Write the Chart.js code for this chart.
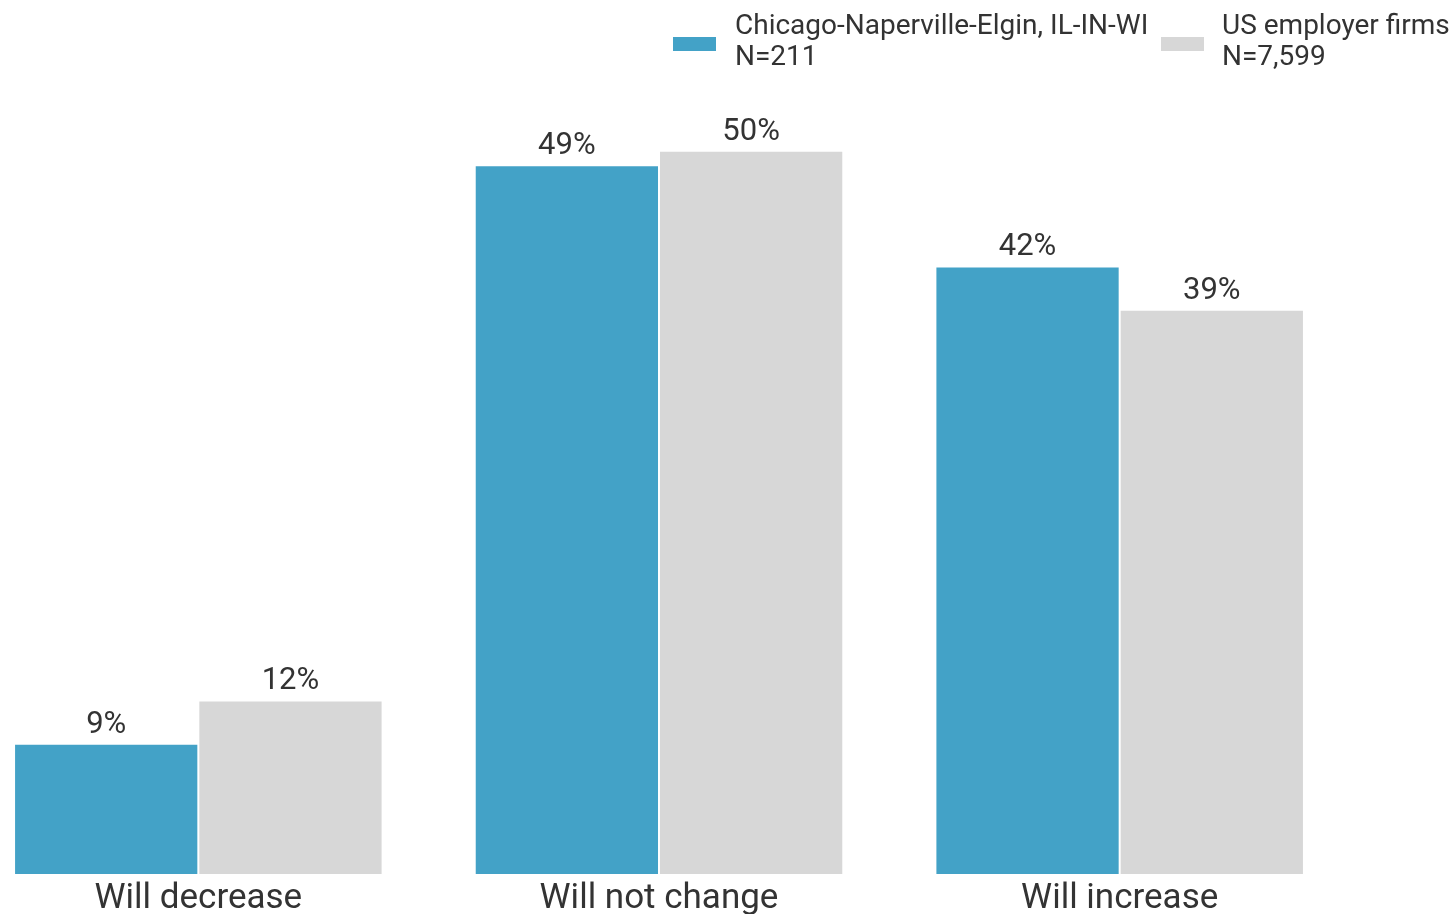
<!DOCTYPE html>
<html>
<head>
<meta charset="utf-8">
<script src="https://cdn.jsdelivr.net/npm/chart.js@4/dist/chart.umd.min.js"></script>
<style>
  body { margin: 0; background: #fff; overflow: hidden; font-family: Roboto, sans-serif; }
  #wrap { position: relative; width: 1455px; height: 914px; overflow: hidden; }
  #chart { position: absolute; left: -32px; top: 0; }
  .legend { position: absolute; top: 9px; color: #333; font-size: 28px; line-height: 31px; }
  .legend .sw { position: absolute; width: 43px; height: 14px; top: 28px; }
  .legend .tx { position: absolute; white-space: nowrap; }
</style>
</head>
<body>
<div id="wrap">
  <canvas id="chart" width="1382" height="924"></canvas>
  <div class="legend" id="legend"></div>
</div>
<script>
// categories and series
const categories = ["Will decrease", "Will not change", "Will increase"];
const seriesNames = [["Chicago-Naperville-Elgin, IL-IN-WI", "N=211"], ["US employer firms", "N=7,599"]];
const chicagoValues = [9, 49, 42];
const usValues = [12, 50, 39];
const colors = ["#43a2c7", "#d7d7d7"];

// legend (html so the two-line labels stay as text)
const legendPos = [{ sw: 673, tx: 735 }, { sw: 1161, tx: 1222 }];
const legend = document.getElementById("legend");
seriesNames.forEach((lines, i) => {
    const sw = document.createElement("div");
    sw.className = "sw";
    sw.style.left = legendPos[i].sw + "px";
    sw.style.background = colors[i];
    legend.appendChild(sw);
    const tx = document.createElement("div");
    tx.className = "tx";
    tx.style.left = legendPos[i].tx + "px";
    tx.innerHTML = lines.join("<br>");
    legend.appendChild(tx);
});

// value labels above the bars
const valueLabels = {
    id: "valueLabels",
    afterDatasetsDraw(chart) {
        const ctx = chart.ctx;
        ctx.save();
        ctx.font = "31px Roboto";
        ctx.fillStyle = "#333";
        ctx.textAlign = "center";
        ctx.textBaseline = "alphabetic";
        chart.data.datasets.forEach((ds, i) => {
            chart.getDatasetMeta(i).data.forEach((bar, j) => {
                ctx.fillText(ds.data[j] + "%", bar.x, bar.y - 11);
            });
        });
        ctx.restore();
    }
};

new Chart(document.getElementById("chart"), {
    type: "bar",
    data: {
        labels: categories,
        datasets: [
            {
                label: seriesNames[0].join(" "),
                data: chicagoValues,
                backgroundColor: colors[0],
                borderColor: "rgba(255,255,255,0.5)",
                borderWidth: 1,
            },
            {
                label: seriesNames[1].join(" "),
                data: usValues,
                backgroundColor: colors[1],
                borderColor: "rgba(255,255,255,0.5)",
                borderWidth: 1,
            },
        ],
    },
    options: {
        responsive: false,
        animation: false,
        events: [],
        layout: { padding: { top: 6, left: 0, right: 0, bottom: 0 } },
        datasets: { bar: { categoryPercentage: 0.8, barPercentage: 1 } },
        plugins: { legend: { display: false }, tooltip: { enabled: false } },
        scales: {
            x: {
                grid: { display: false, drawTicks: false },
                border: { display: false },
                ticks: { color: "#333", font: { family: "Roboto", size: 35 }, padding: 4 },
            },
            y: {
                display: false,
                min: 0,
                max: 60,
            },
        },
    },
    plugins: [valueLabels],
});
</script>
</body>
</html>
